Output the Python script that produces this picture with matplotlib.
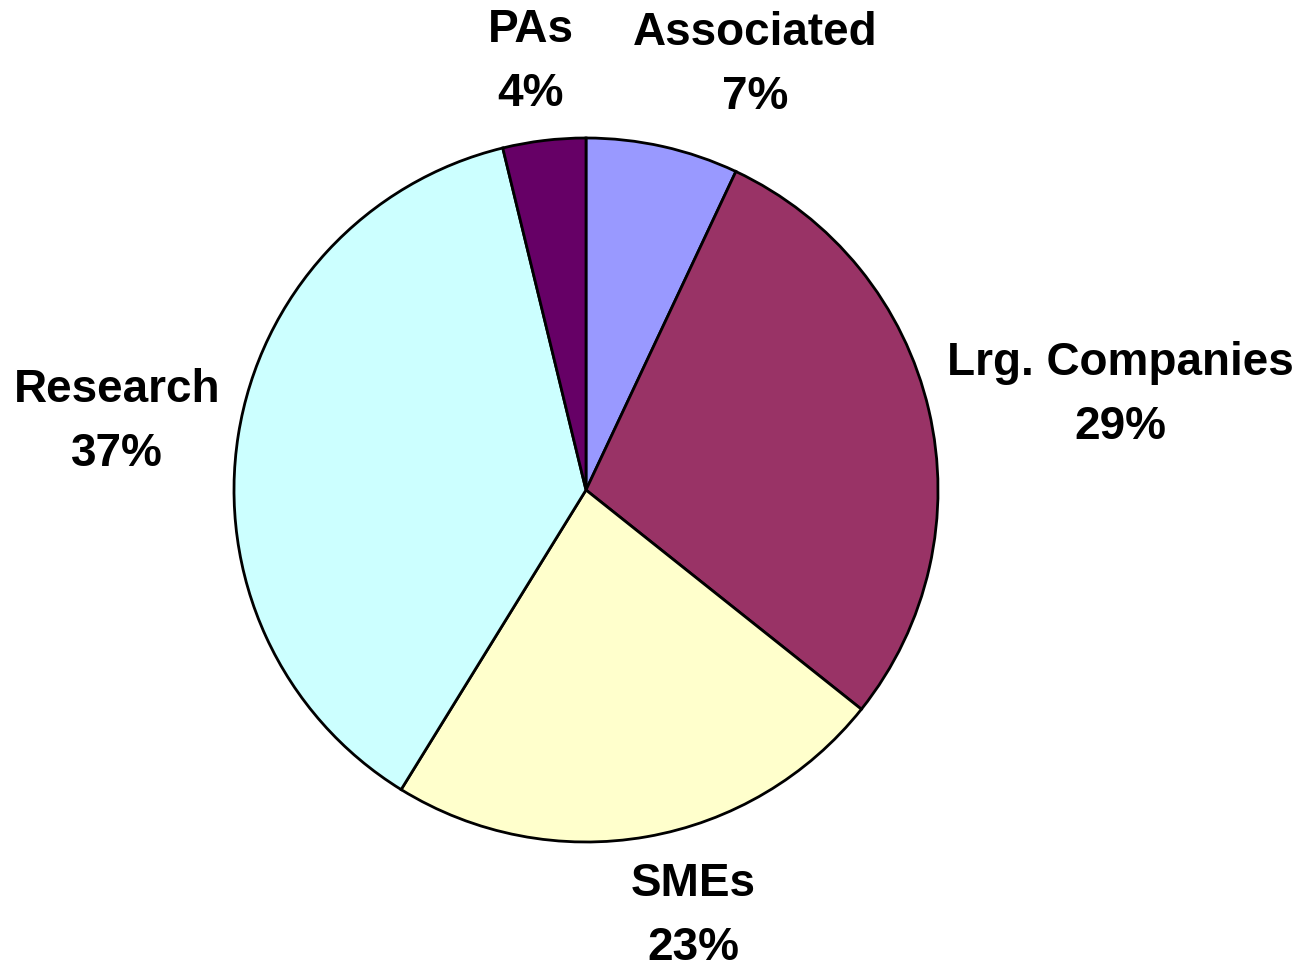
import matplotlib.pyplot as plt

categories = ["Associated", "Lrg. Companies", "SMEs", "Research", "PAs"]
shares = [7.0, 28.7, 23.1, 37.4, 3.8]
colors = ["#9999FF", "#993366", "#FFFFCC", "#CCFFFF", "#660066"]

# label centres in pixels (x from left, y from top)
label_px = [(755, 65), (1120, 395), (693, 916), (117, 422), (531, 62)]

W, H = 1298, 968
CX, CY, R = 586, 490, 352

fig = plt.figure(figsize=(W / 100, H / 100), dpi=100)
ax = fig.add_axes([0, 0, 1, 1])
ax.pie(
    shares,
    colors=colors,
    startangle=90,
    counterclock=False,
    wedgeprops=dict(edgecolor="black", linewidth=2),
)
ax.set_xlim(-CX / R, (W - CX) / R)
ax.set_ylim((CY - H) / R, CY / R)
ax.set_aspect("equal")
ax.axis("off")

for name, val, (px, py) in zip(categories, shares, label_px):
    ax.text(
        (px - CX) / R, (CY - py) / R,
        f"{name}\n{round(val):.0f}%",
        ha="center", va="center", ma="center",
        fontsize=33, fontweight="bold", family="Liberation Sans",
        linespacing=1.57,
    )

fig.savefig("out.png", dpi=100)
